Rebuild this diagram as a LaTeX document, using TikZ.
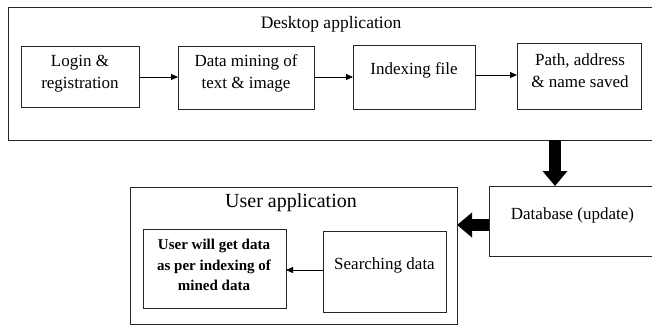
\documentclass[tikz,border=0pt]{standalone}
\usepackage{fontspec}
\setmainfont{Liberation Serif}
\usetikzlibrary{arrows.meta}
\begin{document}
\begin{tikzpicture}[x=1pt,y=-1pt,
  frame/.style={draw=black!85, line width=1pt, inner sep=0pt, outer sep=0pt},
  txt/.style={align=center, inner sep=0pt, font=\fontsize{17}{22}\selectfont},
  btxt/.style={align=center, inner sep=0pt, font=\fontsize{15}{20.5}\selectfont\bfseries},
  thin/.style={draw=black, line width=0.9pt, -{Triangle[length=7pt,width=6pt]}},
  fat/.style={draw=black, line width=12pt, -{Triangle[length=15pt,width=24pt]}}
]
\useasboundingbox (0,0) rectangle (652,325);
\clip (0,0) rectangle (652,325);
\fill[white] (0,0) rectangle (652,325);

% Desktop application
\node[frame, minimum width=648pt, minimum height=133pt] (desk) at (332,73.5) {};
\node[txt, font=\fontsize{17.5}{22}\selectfont] (desktitle) at (331,24) {Desktop application};

\node[frame, minimum width=118pt, minimum height=61pt] (login) at (80,76.5) {};
\node[txt] (logintext) at (80,74) {Login \&\\registration};

\node[frame, minimum width=136pt, minimum height=63pt] (mine) at (246,77.5) {};
\node[txt] (minetext) at (246,73.5) {Data mining of\\text \& image};

\node[frame, minimum width=122pt, minimum height=64pt] (index) at (414,77) {};
\node[txt] (indextext) at (414,70) {Indexing file};

\node[frame, minimum width=124pt, minimum height=66pt] (path) at (579,76) {};
\node[txt] (pathtext) at (580,70.5) {Path, address\\\& name saved};

% Database
\node[frame, minimum width=167pt, minimum height=70pt] (db) at (572.5,221) {};
\node[txt] (dbtext) at (572.5,215) {Database (update)};

% User application
\node[frame, minimum width=327pt, minimum height=137pt] (user) at (293.5,255.5) {};
\node[txt, font=\fontsize{20}{24}\selectfont] (usertitle) at (291,203) {User application};

\node[frame, minimum width=143pt, minimum height=79pt] (get) at (214.5,268.5) {};
\node[btxt] (gettext) at (214,265) {User will get data\\as per indexing of\\mined data};

\node[frame, minimum width=123pt, minimum height=81pt] (search) at (384.5,271.5) {};
\node[txt] (searchtext) at (384.5,265) {Searching data};

% helper coordinates
\coordinate (r1) at (0,77);
\coordinate (r3) at (0,75);
\coordinate (ax) at (555,0);
\coordinate (ay) at (0,225);
\coordinate (sy) at (0,270);

% connectors
\draw[thin] (login.east |- r1) -- (mine.west |- r1);
\draw[thin] (mine.east |- r1) -- (index.west |- r1);
\draw[thin] (index.east |- r3) -- (path.west |- r3);
\draw[fat] (desk.south -| ax) -- (db.north -| ax);
\draw[fat] (db.west |- ay) -- (user.east |- ay);
\draw[thin] (search.west |- sy) -- (get.east |- sy);
\end{tikzpicture}
\end{document}
